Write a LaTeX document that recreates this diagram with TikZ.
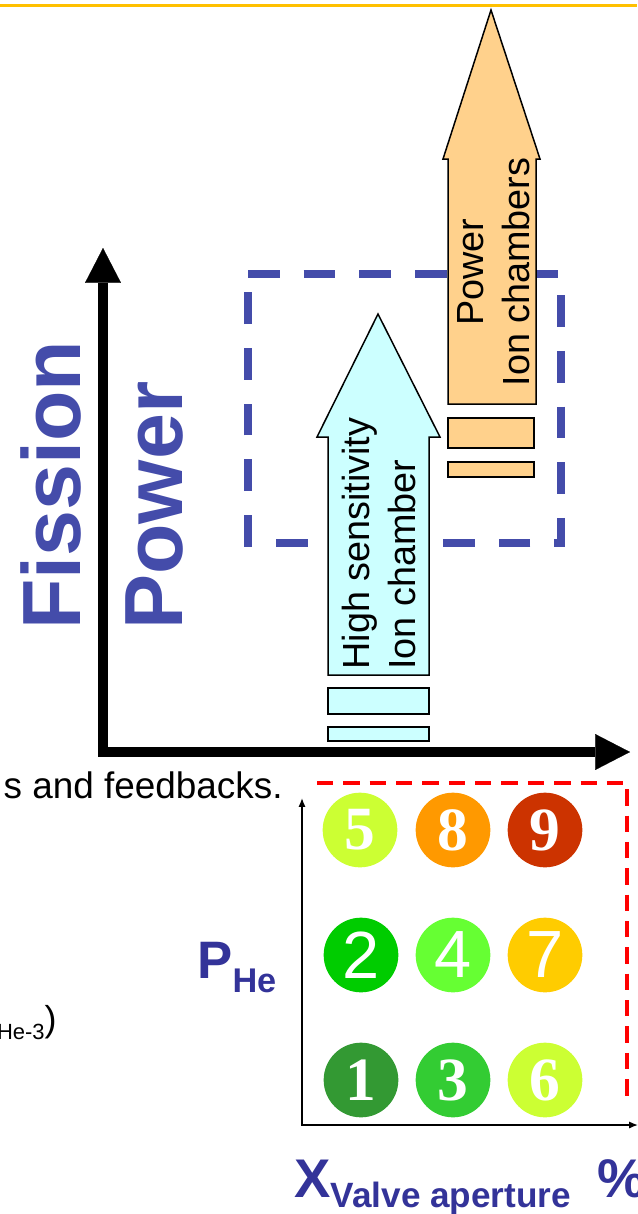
\documentclass[tikz,border=0pt]{standalone}
\usepackage{fontspec}
\setmainfont{Liberation Sans}
\newfontfamily\digitserif{Liberation Serif}
\usetikzlibrary{arrows.meta}

\definecolor{topgold}{RGB}{255,192,0}
\definecolor{fissionblue}{RGB}{68,76,170}
\definecolor{labelblue}{RGB}{51,51,153}
\definecolor{chambercyan}{RGB}{204,255,255}
\definecolor{chamberorange}{RGB}{255,209,140}
\definecolor{chipA}{RGB}{51,153,51}
\definecolor{chipB}{RGB}{0,204,0}
\definecolor{chipC}{RGB}{51,204,51}
\definecolor{chipD}{RGB}{102,255,51}
\definecolor{chipE}{RGB}{204,255,51}
\definecolor{chipG}{RGB}{255,204,0}
\definecolor{chipH}{RGB}{255,153,0}
\definecolor{chipI}{RGB}{204,51,0}

\tikzset{
	bigaxis/.style={line width=5.7pt, {Triangle[length=19.8pt,width=20.4pt,line width=0.1pt]}-{Triangle[length=19.8pt,width=20.4pt,line width=0.1pt]}},
	smallaxis/.style={line width=0.8pt, {Latex[length=5pt,width=4pt]}-{Latex[length=5pt,width=4pt]}},
	bigword/.style={rotate=90, inner sep=0pt, text=fissionblue, font=\fontsize{47}{50}\selectfont\bfseries},
	chambertext/.style={rotate=90, inner sep=0pt, font=\fontsize{21.5}{26}\selectfont},
	chamber/.style={draw=black, line width=0.85pt, line join=miter},
	chip/.style={circle, minimum size=42.5pt, inner sep=0pt, text=white},
	serifchip/.style={chip, font=\digitserif\bfseries\fontsize{35}{35}\selectfont},
	sanschip/.style={chip, font=\fontsize{38}{38}\selectfont}
}

\begin{document}
\begin{tikzpicture}[x=0.02cm, y=-0.02cm]
			%%%%% START %%%%%
			\useasboundingbox (0,0) rectangle (637,1214);
			
			\draw[topgold, line width=1.7pt] (0,5.5) -- (637,5.5);
			
			% detector range box
			\draw[fissionblue, line width=4.25pt, dash pattern=on 18.1pt off 13.6pt] (248,274) -- (561,274) -- (561,543) -- (248,543) -- cycle;
			
			% high sensitivity chamber
			\draw[chamber, fill=chambercyan] (328,675) -- (328,437) -- (317,437) -- (378,314) -- (440,437) -- (429,437) -- (429,675) -- cycle;
			\draw[chamber, fill=chambercyan] (328,688) rectangle (429,714);
			\draw[chamber, fill=chambercyan] (328,727) rectangle (429,741);
			\node[chambertext, anchor=west, align=left] (hsic) at (379,670) {High sensitivity\\Ion chamber};
			
			% power chambers
			\draw[chamber, fill=chamberorange] (448,404) -- (448,159) -- (443,159) -- (491,10) -- (540,159) -- (536,159) -- (536,404) -- cycle;
			\draw[chamber, fill=chamberorange] (448,418) rectangle (534,448);
			\draw[chamber, fill=chamberorange] (448,462) rectangle (534,477);
			\node[chambertext, align=center] (pic) at (494,272) {Power\\Ion chambers};
			
			% fission power axes
			\coordinate (fpy) at (103,248);
			\coordinate (fpo) at (103,752);
			\coordinate (fpx) at (630,752);
			\draw[bigaxis] (fpy) -- (fpo) -- (fpx);
			\node[bigword, anchor=base west] (fission) at (80,630) {Fission};
			\node[bigword, anchor=base west] (power) at (182,630) {Power};
			
			\node[anchor=base east, inner sep=0pt, font=\fontsize{21}{24}\selectfont] (feedtext) at (283,798) {s and feedbacks.};
			\node[anchor=base east, inner sep=0pt, font=\fontsize{20.5}{24}\selectfont] (hetext) at (57,1031) {\raisebox{-5pt}{\fontsize{12.5}{14}\selectfont He-3})};
			
			% valve / pressure map
			\draw[red, line width=2.3pt, dash pattern=on 9.3pt off 5.7pt] (317,783) -- (627,783) -- (627,1100);
			\coordinate (vpy) at (302,798);
			\coordinate (vpo) at (302,1125);
			\coordinate (vpx) at (638,1125);
			\draw[smallaxis] (vpy) -- (vpo) -- (vpx);
			
			\node[serifchip, fill=chipE] (n5) at (360,830) {5};
			\node[serifchip, fill=chipH] (n8) at (453,830) {8};
			\node[serifchip, fill=chipI] (n9) at (545,830) {9};
			
			\node[sanschip, fill=chipB] (n2) at (361,955) {2};
			\node[sanschip, fill=chipD] (n4) at (453,955) {4};
			\node[sanschip, fill=chipG] (n7) at (545,955) {7};
			
			\node[serifchip, fill=chipA] (n1) at (361,1080) {1};
			\node[serifchip, fill=chipC] (n3) at (453,1080) {3};
			\node[serifchip, fill=chipE] (n6) at (545,1080) {6};
			
			\node[anchor=base west, inner sep=0pt, text=labelblue, font=\bfseries] (phe) at (197,978) {\fontsize{30}{32}\selectfont P\raisebox{-8pt}{\fontsize{19.5}{20}\selectfont He}};
			\node[anchor=base west, inner sep=0pt, text=labelblue, font=\bfseries] (xvalve) at (294,1197) {\fontsize{31}{34}\selectfont X\raisebox{-5.7pt}{\fontsize{20}{22}\selectfont Valve aperture}};
			\node[anchor=base west, inner sep=0pt, text=labelblue, font=\bfseries\fontsize{31}{34}\selectfont] (pct) at (597,1197) {\%};
			
			%%%%% END %%%%%
		\end{tikzpicture}
\end{document}
